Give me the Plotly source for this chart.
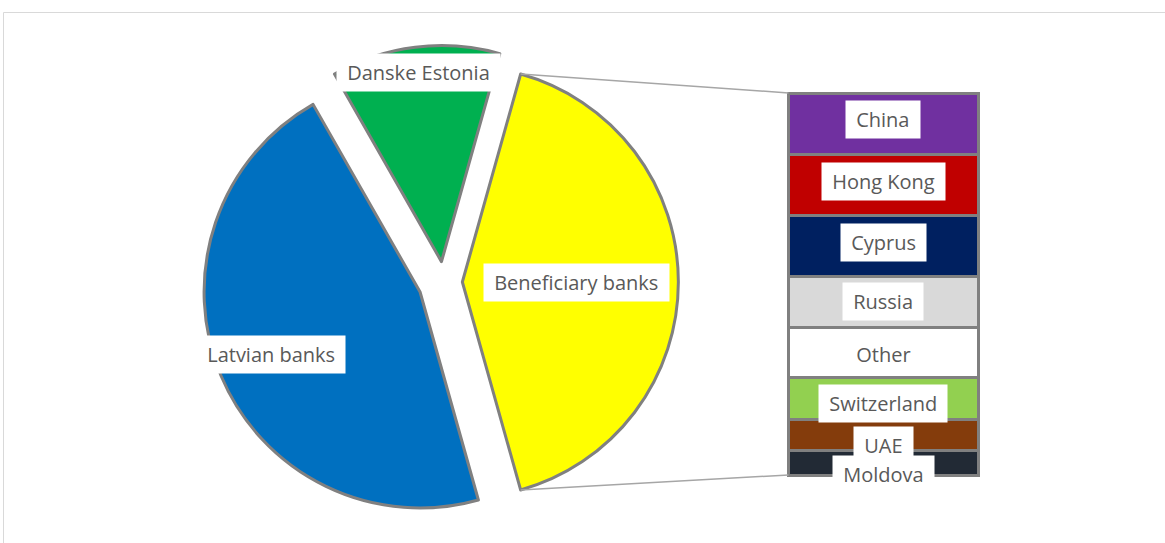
import numpy as np
import plotly.graph_objects as go

# ---------------- data ----------------
pie_labels = ["Beneficiary banks", "Latvian banks", "Danske Estonia"]
latvian_value = 46.1
danske_value = 12.6

countries = ["China", "Hong Kong", "Cyprus", "Russia", "Other",
             "Switzerland", "UAE", "Moldova"]
country_values = [6.6, 6.6, 6.6, 5.5, 5.5, 4.5, 3.3, 2.7]

beneficiary_value = sum(country_values)
pie_values = [beneficiary_value, latvian_value, danske_value]

# ---------------- styles ----------------
W, H = 1165, 543
pie_colors = ["#FFFF00", "#0070C0", "#00B050"]
country_colors = ["#7030A0", "#C00000", "#002060", "#D9D9D9", "#FFFFFF",
                  "#92D050", "#843C0C", "#222A35"]
edge = "#808080"
text_grey = "#595959"
font_family = "Open Sans"
font_size = 20

pulls = [0.085, 0.12, 0.095]          # explosion of each slice (fraction of radius)
label_radius = [0.53, 0.75, 0.88]     # label distance along the slice bisector
label_nudge = [4, 3, 3, 0, -2, -5, -11, -12]  # vertical nudge of bar labels (px)

R = 216                    # pie radius in px
CX, CY = 444, 282          # pie centre in px (from top-left)
bar_left, bar_right = 788.5, 978
bar_top, bar_bottom = 93, 475


def px(x):
    return x / W


def py(y):
    return 1 - y / H


# pie domain sized so that radius = R after Plotly shrinks it for the pull
half = R * (1 + max(pulls))
pie_domain = dict(x=[px(CX - half), px(CX + half)],
                  y=[py(CY + half), py(CY - half)])

total = sum(pie_values)
share = [v / total for v in pie_values]
# the beneficiary slice is centred on 3 o'clock, facing the bar
rotation = 90 - 180 * share[0]

fig = go.Figure()
fig.add_trace(go.Pie(
    labels=pie_labels, values=pie_values, sort=False,
    direction="clockwise", rotation=rotation,
    pull=pulls, textinfo="none", hoverinfo="label+value",
    marker=dict(colors=pie_colors, line=dict(color=edge, width=3)),
    domain=pie_domain, showlegend=False,
))

# stacked bar: first country on top, so add from the bottom up
for name, val, col in reversed(list(zip(countries, country_values, country_colors))):
    fig.add_trace(go.Bar(
        x=[0], y=[val], name=name, width=1,
        marker=dict(color=col, line=dict(color=edge, width=3)),
        showlegend=False, hoverinfo="name+y",
    ))

pad = 10
bw = bar_right - bar_left
bh = bar_bottom - bar_top
fig.update_layout(
    barmode="stack",
    xaxis=dict(domain=[px(bar_left - pad), px(bar_right + pad)],
               range=[-0.5 - pad / bw, 0.5 + pad / bw], visible=False, fixedrange=True),
    yaxis=dict(domain=[py(bar_bottom + pad), py(bar_top - pad)],
               range=[-pad * beneficiary_value / bh, beneficiary_value * (1 + pad / bh)],
               visible=False, fixedrange=True),
)

label_font = dict(family=font_family, size=font_size, color=text_grey)
annotations = []
# pie labels, placed along each slice bisector
start = rotation
for lab, s, pl, lr in zip(pie_labels, share, pulls, label_radius):
    mid = np.radians(start + 180 * s)
    dx, dy = np.sin(mid), -np.cos(mid)
    cx = CX + pl * R * dx
    cy = CY + pl * R * dy
    annotations.append(dict(
        x=px(cx + lr * R * dx), y=py(cy + lr * R * dy), xref="paper", yref="paper",
        xanchor="center", yanchor="middle",
        text="&nbsp;" + lab + "&nbsp;", showarrow=False, bgcolor="white", borderpad=5,
        font=label_font,
    ))
    start += 360 * s

# bar labels at segment centres
top = beneficiary_value
for name, val, nudge in zip(countries, country_values, label_nudge):
    annotations.append(dict(
        x=0, y=top - val / 2, xref="x", yref="y", yshift=nudge,
        xanchor="center", yanchor="middle",
        text="&nbsp;" + name + "&nbsp;", showarrow=False, bgcolor="white", borderpad=5,
        font=label_font,
    ))
    top -= val

# connector lines from the beneficiary slice edges to the bar corners
ben_cx = CX + pulls[0] * R
shapes = []
for ang, ybar in ((rotation, bar_top), (rotation + 360 * share[0], bar_bottom)):
    a = np.radians(ang)
    x0 = ben_cx + R * np.sin(a)
    y0 = CY - R * np.cos(a)
    shapes.append(dict(type="line", xref="paper", yref="paper",
                       x0=px(x0), y0=py(y0), x1=px(bar_left), y1=py(ybar),
                       line=dict(color="#A6A6A6", width=1.5)))

# chart area frame
shapes.append(dict(type="rect", xref="paper", yref="paper",
                   x0=px(3.5), y0=-0.05, x1=1.05, y1=py(12.5),
                   line=dict(color="#D9D9D9", width=1)))

fig.update_layout(
    width=W, height=H, margin=dict(l=0, r=0, t=0, b=0),
    paper_bgcolor="white", plot_bgcolor="white",
    annotations=annotations, shapes=shapes,
)

fig.write_html("out.html")
